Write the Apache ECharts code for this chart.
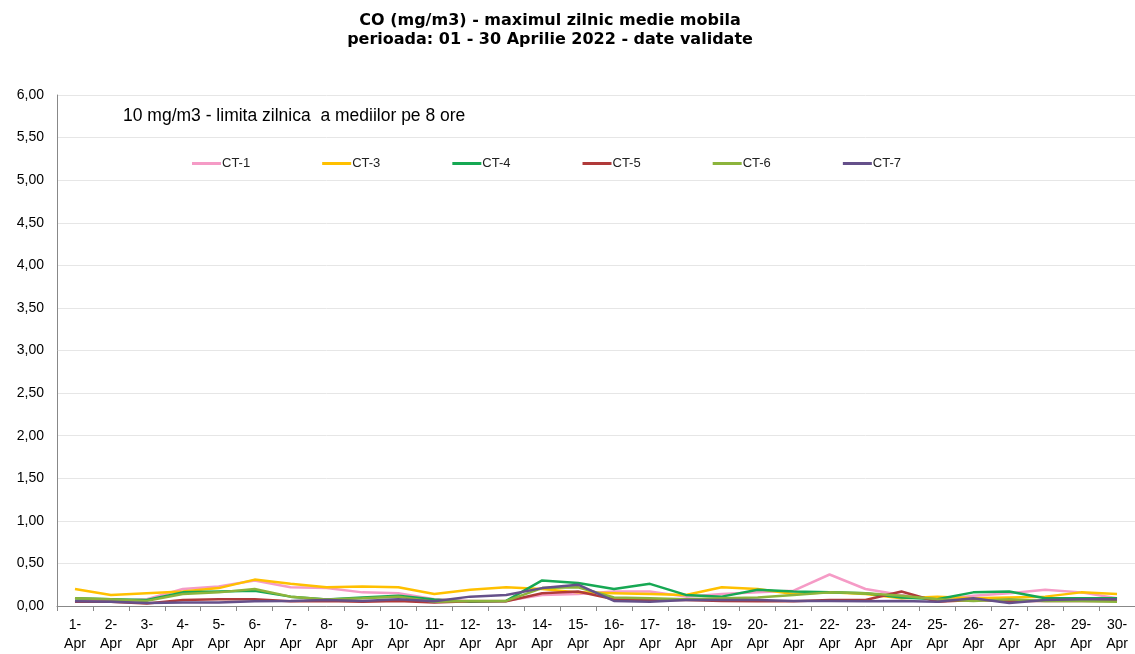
<!DOCTYPE html>
<html>
<head>
<meta charset="utf-8">
<script src="https://cdn.jsdelivr.net/npm/echarts@6/dist/echarts.min.js"></script>
<style>html,body{margin:0;padding:0;background:#fff}#c{width:1135px;height:654px}</style>
</head>
<body>
<div id="c"></div>
<script>
const categories = ['1-Apr','2-Apr','3-Apr','4-Apr','5-Apr','6-Apr','7-Apr','8-Apr','9-Apr','10-Apr','11-Apr','12-Apr','13-Apr','14-Apr','15-Apr','16-Apr','17-Apr','18-Apr','19-Apr','20-Apr','21-Apr','22-Apr','23-Apr','24-Apr','25-Apr','26-Apr','27-Apr','28-Apr','29-Apr','30-Apr'];
const seriesNames = ['CT-1','CT-3','CT-4','CT-5','CT-6','CT-7'];
const ct1 = [0.07,0.06,0.08,0.20,0.23,0.30,0.22,0.21,0.16,0.15,0.08,0.06,0.06,0.13,0.14,0.17,0.17,0.11,0.14,0.16,0.18,0.37,0.20,0.13,0.07,0.12,0.15,0.19,0.16,0.09];
const ct3 = [0.20,0.13,0.15,0.17,0.21,0.31,0.26,0.22,0.23,0.22,0.14,0.19,0.22,0.20,0.16,0.15,0.14,0.13,0.22,0.20,0.14,0.16,0.14,0.09,0.11,0.09,0.10,0.11,0.16,0.14];
const ct4 = [0.09,0.08,0.07,0.16,0.17,0.18,0.11,0.075,0.10,0.12,0.075,0.05,0.06,0.30,0.27,0.20,0.26,0.13,0.11,0.19,0.17,0.16,0.15,0.10,0.08,0.16,0.17,0.09,0.09,0.09];
const ct5 = [0.05,0.05,0.03,0.07,0.08,0.08,0.055,0.06,0.05,0.06,0.04,0.055,0.055,0.15,0.17,0.08,0.07,0.07,0.06,0.055,0.055,0.07,0.07,0.17,0.05,0.07,0.06,0.06,0.06,0.06];
const ct6 = [0.09,0.08,0.06,0.14,0.16,0.20,0.11,0.075,0.09,0.11,0.05,0.06,0.06,0.21,0.22,0.10,0.09,0.08,0.09,0.10,0.13,0.16,0.15,0.12,0.08,0.06,0.08,0.06,0.06,0.05];
const ct7 = [0.055,0.05,0.035,0.04,0.04,0.055,0.06,0.07,0.06,0.08,0.055,0.11,0.13,0.21,0.25,0.06,0.05,0.07,0.07,0.07,0.06,0.06,0.055,0.06,0.05,0.09,0.035,0.07,0.08,0.08];
const seriesData = [ct1, ct3, ct4, ct5, ct6, ct7];
const colors = ['#F59BC6','#FFC000','#16A853','#B03A3A','#8CB43C','#65508A'];

const chart = echarts.init(document.getElementById('c'), null, {renderer:'canvas'});
chart.setOption({
  animation: false,
  backgroundColor: '#fff',
  title: {
    text: 'CO (mg/m3) - maximul zilnic medie mobila\nperioada: 01 - 30 Aprilie 2022 - date validate',
    left: 545, top: 6, textAlign: 'center',
    textStyle: {fontFamily: 'DejaVu Sans', fontWeight: 'bold', fontSize: 16, lineHeight: 19, color: '#000'}
  },
  graphic: [{
    type: 'text', left: 123, top: 107,
    style: {text: '10 mg/m3 - limita zilnica  a mediilor pe 8 ore', font: '17.5px "Liberation Sans", Arial', fill: '#000'}
  }],
  legend: {
    data: seriesNames, left: 187, top: 152, itemGap: 72, itemWidth: 29, itemHeight: 3, icon: 'rect',
    textStyle: {fontFamily: 'Liberation Sans', fontSize: 13, color: '#222', padding: [0,0,0,-4]}
  },
  grid: {left: 57, top: 95, width: 1083, height: 512, containLabel: false},
  xAxis: {
    type: 'category', data: categories, boundaryGap: true,
    axisLine: {lineStyle: {color: '#888', width: 1}},
    axisTick: {show: true, length: 5, lineStyle: {color: '#888'}},
    axisLabel: {
      interval: 0, color: '#000', fontFamily: 'Liberation Sans', fontSize: 14, lineHeight: 19, margin: 10,
      formatter: v => v.replace('-', '-\n')
    }
  },
  yAxis: {
    type: 'value', min: 0, max: 6, interval: 0.5,
    axisLine: {show: true, lineStyle: {color: '#888'}},
    axisTick: {show: false},
    splitLine: {lineStyle: {color: '#e6e6e6'}},
    axisLabel: {color: '#000', fontFamily: 'Liberation Sans', fontSize: 14, margin: 13,
      formatter: v => v.toFixed(2).replace('.', ',')}
  },
  series: seriesNames.map((n, i) => ({
    name: n, type: 'line', data: seriesData[i], showSymbol: false, symbol: 'none',
    lineStyle: {color: colors[i], width: 2.5}, itemStyle: {color: colors[i]}
  }))
});
</script>
</body>
</html>
